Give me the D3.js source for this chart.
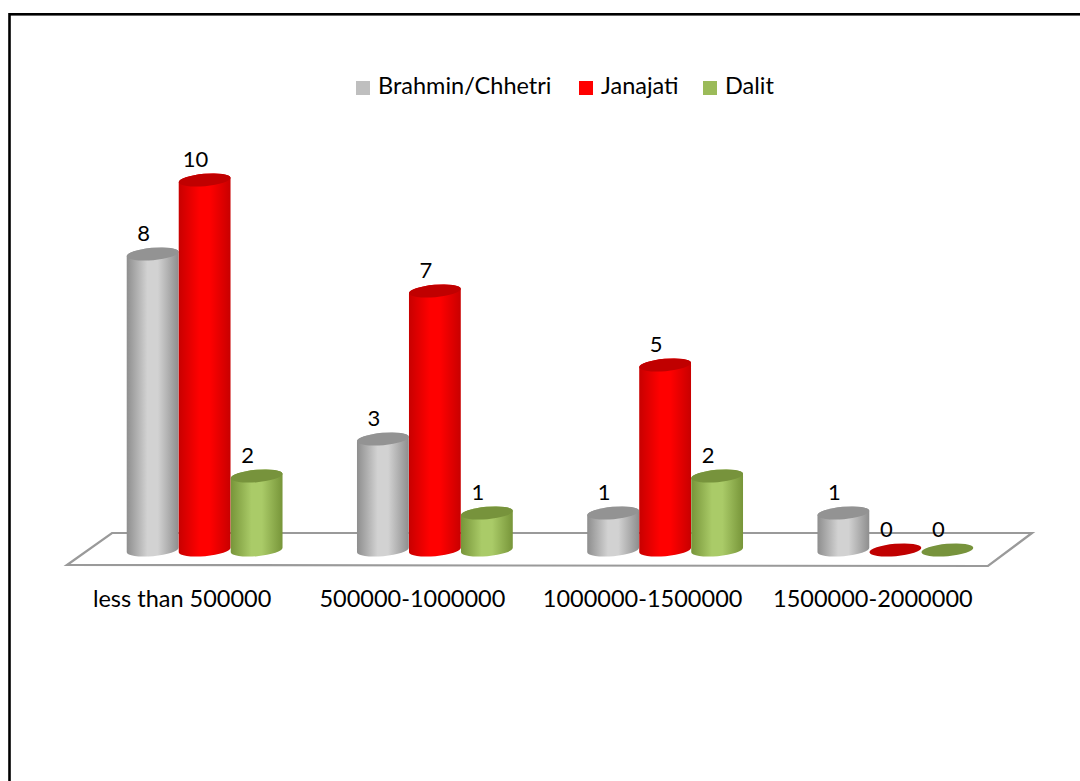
<!DOCTYPE html>
<html>
<head>
<meta charset="utf-8">
<script src="https://cdn.jsdelivr.net/npm/d3@7"></script>
<style>
  html, body { margin: 0; padding: 0; background: #fff; }
  .container { width: 1080px; height: 781px; }
  text { font-family: Lato, "Open Sans", sans-serif; fill: #000; }
</style>
</head>
<body>
<div class="container"></div>
<script>
// chart values
const categories = ["less than 500000", "500000-1000000", "1000000-1500000", "1500000-2000000"];
const seriesNames = ["Brahmin/Chhetri", "Janajati", "Dalit"];
const brahmin = [8, 3, 1, 1];
const janajati = [10, 7, 5, 0];
const dalit = [2, 1, 2, 0];
const yTicks = [0, 10];

const seriesValues = [brahmin, janajati, dalit];
const colors = {
  "Brahmin/Chhetri": {edge: "#8e8e8e", mid: "#d2d2d2", top: "#939393", legend: "#bfbfbf"},
  "Janajati": {edge: "#c80000", mid: "#ff0000", top: "#c00000", legend: "#ff0000"},
  "Dalit": {edge: "#779539", mid: "#aacb68", top: "#77933c", legend: "#9bbb59"}
};

const width = 1080, height = 781;
const svg = d3.select(".container").append("svg")
  .attr("width", width)
  .attr("height", height);

// frame
svg.append("rect")
  .attr("x", 9.5).attr("y", 14.3)
  .attr("width", 1100).attr("height", 800)
  .attr("fill", "none")
  .attr("stroke", "#000")
  .attr("stroke-width", 2.6);

const defs = svg.append("defs");
seriesNames.forEach((s, i) => {
  const c = colors[s];
  const g = defs.append("linearGradient")
    .attr("id", "grad" + i)
    .attr("x1", 0).attr("x2", 1).attr("y1", 0).attr("y2", 0);
  g.append("stop").attr("offset", "0%").attr("stop-color", c.edge);
  g.append("stop").attr("offset", "40%").attr("stop-color", c.mid);
  g.append("stop").attr("offset", "60%").attr("stop-color", c.mid);
  g.append("stop").attr("offset", "100%").attr("stop-color", c.edge);
});

// scales
const floorFront = 565, floorBack = 533, depthShift = 45;
const x0 = d3.scaleBand().domain(categories).range([67, 988]).padding(0);
const x1 = d3.scaleBand().domain(seriesNames).range([0, 156]).padding(0);
const y = d3.scaleLinear().domain(d3.extent(yTicks)).range([550, 180]);

const rx = x1.bandwidth() / 2, ry = 6.2, tilt = -5;
const cx = (c, s) => x0(c) + x0.bandwidth() / 2 + depthShift / 2 - 78 + x1(s) + x1.bandwidth() / 2;

// floor
const [fl, fr] = x0.range();
svg.append("path")
  .attr("d", `M${fl},${floorFront} L${fl + depthShift},${floorBack} L${fr + depthShift - 1},${floorBack} L${fr},${floorFront + 1} Z`)
  .attr("fill", "#fff")
  .attr("stroke", "#9a9a9a")
  .attr("stroke-width", 2.2);

// cylinders
const bars = [];
categories.forEach((c, ci) => {
  seriesNames.forEach((s, si) => {
    bars.push({cat: c, series: s, si: si, value: seriesValues[si][ci]});
  });
});

const rad = tilt * Math.PI / 180;
const dx = rx * Math.cos(rad), dy = rx * Math.sin(rad);

const cyl = svg.append("g").selectAll("g")
  .data(bars)
  .enter()
  .append("g");

cyl.filter(d => d.value > 0)
  .append("path")
  .attr("fill", d => `url(#grad${d.si})`)
  .attr("d", d => {
    const x = cx(d.cat, d.series), yt = y(d.value), yb = y(0);
    return `M${x - dx},${yt - dy} L${x - dx},${yb - dy}` +
      ` A${rx},${ry} ${tilt} 0 0 ${x + dx},${yb + dy}` +
      ` L${x + dx},${yt + dy}` +
      ` A${rx},${ry} ${tilt} 0 0 ${x - dx},${yt - dy} Z`;
  });

cyl.append("ellipse")
  .attr("cx", d => cx(d.cat, d.series))
  .attr("cy", d => y(d.value))
  .attr("rx", rx)
  .attr("ry", ry)
  .attr("transform", d => `rotate(${tilt},${cx(d.cat, d.series)},${y(d.value)})`)
  .attr("fill", d => colors[d.series].top);

// data labels
svg.append("g").selectAll("text")
  .data(bars)
  .enter()
  .append("text")
  .attr("x", d => cx(d.cat, d.series) - 9)
  .attr("y", d => y(d.value) - 13)
  .attr("text-anchor", "middle")
  .style("font-size", "22px")
  .text(d => d.value);

// category labels
svg.append("g").selectAll("text")
  .data(categories)
  .enter()
  .append("text")
  .attr("x", d => x0(d) + x0.bandwidth() / 2)
  .attr("y", 607)
  .attr("text-anchor", "middle")
  .style("font-size", "23.5px")
  .text(d => d);

// legend
const legendX = [356, 579, 703];
const leg = svg.append("g").selectAll("g")
  .data(seriesNames)
  .enter()
  .append("g")
  .attr("transform", (d, i) => `translate(${legendX[i]}, 81)`);
leg.append("rect")
  .attr("width", 14).attr("height", 14)
  .attr("fill", d => colors[d].legend);
leg.append("text")
  .attr("x", 22).attr("y", 13)
  .style("font-size", "23.5px")
  .text(d => d);
</script>
</body>
</html>
